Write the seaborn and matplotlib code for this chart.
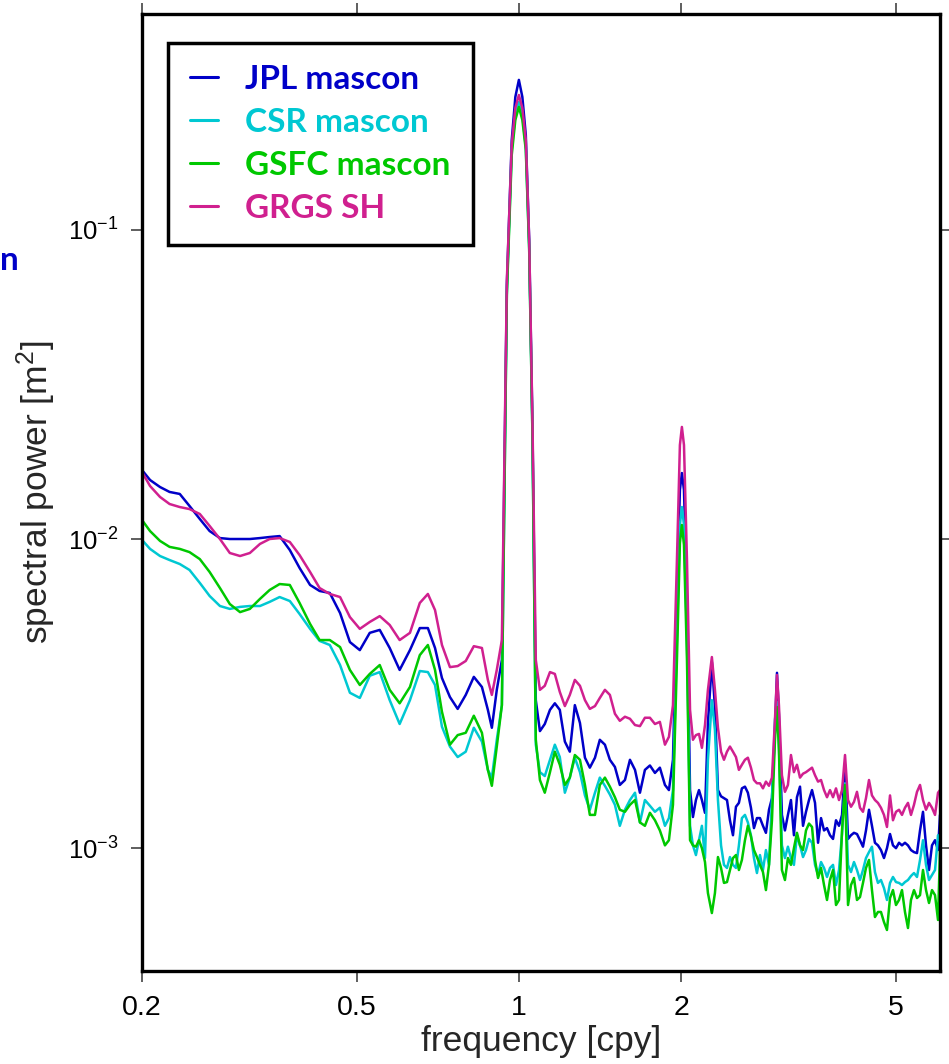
import matplotlib
matplotlib.use("Agg")
import matplotlib.pyplot as plt
import numpy as np
import pandas as pd
import seaborn as sns
from matplotlib.lines import Line2D
from matplotlib.ticker import FixedLocator, FixedFormatter, NullLocator

# ---------------- data ----------------
frequency = [
    0.200, 0.207, 0.216, 0.225, 0.235, 0.245, 0.256, 0.267, 0.279, 0.291,
    0.304, 0.317, 0.331, 0.345, 0.360, 0.376, 0.392, 0.410, 0.427, 0.446,
    0.466, 0.486, 0.507, 0.529, 0.552, 0.576, 0.601, 0.628, 0.655, 0.678,
    0.699, 0.720, 0.745, 0.770, 0.797, 0.825, 0.854, 0.876, 0.891, 0.910, 0.930,
    0.950, 0.970, 0.985, 1.000, 1.015, 1.030, 1.045, 1.060, 1.075,
    1.094, 1.117, 1.142, 1.166, 1.191, 1.217, 1.243, 1.270, 1.298, 1.326,
    1.354, 1.384, 1.413, 1.444, 1.475, 1.507, 1.539, 1.573, 1.607, 1.642,
    1.677, 1.713, 1.750, 1.788, 1.826, 1.866, 1.898, 1.931,
    1.964, 1.989, 2.006, 2.024, 2.050, 2.077,
    2.103, 2.130, 2.158, 2.185, 2.214, 2.242,
    2.280, 2.310, 2.340, 2.371, 2.401, 2.432, 2.463, 2.495, 2.527, 2.559, 2.592,
    2.626, 2.659, 2.694, 2.729, 2.764, 2.800, 2.836, 2.872, 2.910, 2.947, 2.985,
    3.011, 3.036,
    3.075, 3.115, 3.155, 3.196, 3.237, 3.279, 3.322, 3.365, 3.408, 3.452,
    3.497, 3.542, 3.588, 3.634, 3.681, 3.728, 3.776, 3.825, 3.874, 3.924,
    3.975, 4.026, 4.078, 4.130, 4.183, 4.237, 4.292, 4.347, 4.403, 4.460,
    4.517, 4.575, 4.634, 4.694, 4.755, 4.816, 4.879, 4.941, 5.005, 5.070,
    5.135, 5.201, 5.268, 5.336, 5.405, 5.475, 5.546, 5.617, 5.690, 5.763,
    5.837, 5.913, 5.989, 6.040,
]

jpl_mascon = [
    0.01672, 0.01552, 0.01473, 0.01420, 0.01399, 0.01279, 0.01161, 0.01061, 0.01007, 0.01000,
    0.01000, 0.01000, 0.01007, 0.01015, 0.01022, 0.00921, 0.00806, 0.00710, 0.00679, 0.00669,
    0.00576, 0.00464, 0.00437, 0.00497, 0.00508, 0.00444, 0.00377, 0.00437, 0.00515, 0.00515,
    0.00444, 0.00355, 0.00308, 0.00282, 0.00313, 0.00358, 0.00332, 0.00280, 0.00245, 0.00325, 0.00406,
    0.0664, 0.1956, 0.2694, 0.306, 0.2694, 0.2030, 0.0928, 0.02254, 0.00301,
    0.00239, 0.00252, 0.00280, 0.00294, 0.00280, 0.00221, 0.00205, 0.00290, 0.00254, 0.00196,
    0.00182, 0.00196, 0.00224, 0.00216, 0.00193, 0.00183, 0.00160, 0.00166, 0.00193, 0.00179,
    0.00151, 0.00179, 0.00185, 0.00175, 0.00182, 0.00160, 0.00154, 0.00193,
    0.00635, 0.01441, 0.01635, 0.01441, 0.00635, 0.00154,
    0.00126, 0.00143, 0.00154, 0.00143, 0.00130, 0.00254,
    0.00400, 0.00286, 0.00154, 0.00147, 0.00145, 0.00143, 0.00123, 0.00110, 0.00136, 0.00140, 0.00156,
    0.00158, 0.00151, 0.00135, 0.00116, 0.00125, 0.00125, 0.00118, 0.00112, 0.00133, 0.00145, 0.00241,
    0.00369, 0.00270,
    0.00128, 0.00114, 0.00128, 0.00143, 0.00110, 0.00146, 0.00158, 0.00118, 0.00131, 0.00143,
    0.00154, 0.00140, 0.00104, 0.00125, 0.00114, 0.00116, 0.00110, 0.00107, 0.00123, 0.00118,
    0.00128, 0.00186, 0.00107, 0.00110, 0.00112, 0.00111, 0.00106, 0.00101, 0.00114, 0.00133,
    0.00118, 0.00104, 0.00102, 0.000985, 0.000928, 0.000999, 0.00111, 0.00102, 0.000999, 0.00104,
    0.00102, 0.00104, 0.00102, 0.000985, 0.000970, 0.000963, 0.00114, 0.00131, 0.00102, 0.000849,
    0.00102, 0.00106, 0.000985, 0.00128,
]

csr_mascon = [
    0.00993, 0.00929, 0.00881, 0.00855, 0.00830, 0.00794, 0.00721, 0.00654, 0.00607, 0.00594,
    0.00603, 0.00607, 0.00607, 0.00626, 0.00649, 0.00630, 0.00572, 0.00512, 0.00468, 0.00454,
    0.00391, 0.00318, 0.00306, 0.00361, 0.00371, 0.00301, 0.00252, 0.00301, 0.00374, 0.00371,
    0.00337, 0.00247, 0.00213, 0.00197, 0.00205, 0.00245, 0.00221, 0.00179, 0.00169, 0.00224, 0.00290,
    0.0639, 0.1815, 0.2355, 0.2595, 0.2355, 0.1857, 0.0874, 0.02124, 0.00216,
    0.00176, 0.00171, 0.00193, 0.00216, 0.00197, 0.00151, 0.00169, 0.00196, 0.00176, 0.00148,
    0.00133, 0.00151, 0.00169, 0.00159, 0.00149, 0.00138, 0.00118, 0.00133, 0.00143, 0.00151,
    0.00121, 0.00143, 0.00137, 0.00131, 0.00135, 0.00118, 0.00125, 0.00154,
    0.00471, 0.01110, 0.01269, 0.01110, 0.00471, 0.00118,
    0.00102, 0.000949, 0.00106, 0.00118, 0.000928, 0.00193,
    0.00301, 0.00241, 0.00143, 0.00102, 0.000882, 0.000862, 0.000935, 0.000882, 0.000862, 0.00102, 0.00125,
    0.00128, 0.00121, 0.00110, 0.000928, 0.000830, 0.000949, 0.000849, 0.000985, 0.000882, 0.00143, 0.00260,
    0.00297, 0.00216,
    0.00102, 0.000928, 0.00101, 0.000928, 0.000882, 0.00110, 0.00102, 0.000935, 0.000985, 0.00107,
    0.00104, 0.000882, 0.000818, 0.000901, 0.000862, 0.000806, 0.000862, 0.000882, 0.000759, 0.000849,
    0.00111, 0.00162, 0.000882, 0.000836, 0.000901, 0.000849, 0.000788, 0.000849, 0.000928, 0.000970,
    0.00101, 0.000836, 0.000771, 0.000788, 0.000742, 0.000679, 0.000771, 0.000806, 0.000776, 0.000771,
    0.000759, 0.000776, 0.000788, 0.000812, 0.000830, 0.000806, 0.000915, 0.00106, 0.000882, 0.000788,
    0.000818, 0.000849, 0.00110, 0.00106,
]

gsfc_mascon = [
    0.01152, 0.01061, 0.00986, 0.00943, 0.00929, 0.00907, 0.00861, 0.00782, 0.00694, 0.00616,
    0.00580, 0.00594, 0.00640, 0.00684, 0.00715, 0.00710, 0.00621, 0.00531, 0.00471, 0.00471,
    0.00447, 0.00377, 0.00337, 0.00366, 0.00391, 0.00325, 0.00294, 0.00332, 0.00421, 0.00454,
    0.00377, 0.00276, 0.00216, 0.00232, 0.00236, 0.00268, 0.00236, 0.00179, 0.00159, 0.00213, 0.00290,
    0.0616, 0.1749, 0.2270, 0.2500, 0.2270, 0.1815, 0.0862, 0.02091, 0.00224,
    0.00166, 0.00151, 0.00176, 0.00205, 0.00186, 0.00160, 0.00169, 0.00200, 0.00193, 0.00160,
    0.00128, 0.00128, 0.00160, 0.00169, 0.00158, 0.00146, 0.00133, 0.00131, 0.00138, 0.00143,
    0.00121, 0.00118, 0.00130, 0.00123, 0.00114, 0.00102, 0.00106, 0.00138,
    0.00406, 0.00971, 0.01110, 0.00957, 0.00406, 0.00106,
    0.00102, 0.00101, 0.00106, 0.000999, 0.000901, 0.000715,
    0.000616, 0.000715, 0.000935, 0.000862, 0.000771, 0.000776, 0.000849, 0.000928, 0.000949, 0.000849, 0.000915,
    0.00106, 0.00118, 0.00109, 0.000985, 0.000935, 0.000882, 0.000836, 0.000731, 0.000882, 0.00123, 0.00224,
    0.00286, 0.00208,
    0.000849, 0.000788, 0.000928, 0.000882, 0.000999, 0.00112, 0.00102, 0.000985, 0.00114, 0.00120,
    0.00117, 0.000915, 0.000800, 0.000862, 0.000759, 0.000679, 0.000788, 0.000849, 0.000654, 0.000679,
    0.00114, 0.00160, 0.000654, 0.000759, 0.000800, 0.000679, 0.000694, 0.000771, 0.000862, 0.000915,
    0.000731, 0.000598, 0.000621, 0.000621, 0.000576, 0.000543, 0.000689, 0.000731, 0.000654, 0.000679,
    0.000731, 0.000621, 0.000551, 0.000679, 0.000731, 0.000689, 0.000704, 0.000849, 0.000731, 0.000664,
    0.000731, 0.000704, 0.000585, 0.000985,
]

grgs_sh = [
    0.01647, 0.01484, 0.01368, 0.01298, 0.01269, 0.01250, 0.01205, 0.01102, 0.01000, 0.00901,
    0.00881, 0.00901, 0.00964, 0.01000, 0.01007, 0.00978, 0.00887, 0.00782, 0.00694, 0.00664,
    0.00649, 0.00559, 0.00512, 0.00539, 0.00563, 0.00527, 0.00471, 0.00497, 0.00621, 0.00664,
    0.00589, 0.00454, 0.00385, 0.00388, 0.00403, 0.00450, 0.00444, 0.00350, 0.00313, 0.00377, 0.00471,
    0.0689, 0.1884, 0.2482, 0.2734, 0.2482, 0.1956, 0.0928, 0.02339, 0.00406,
    0.00325, 0.00335, 0.00371, 0.00366, 0.00320, 0.00288, 0.00313, 0.00350, 0.00335, 0.00301,
    0.00282, 0.00288, 0.00306, 0.00325, 0.00313, 0.00272, 0.00258, 0.00266, 0.00262, 0.00250,
    0.00248, 0.00264, 0.00264, 0.00252, 0.00256, 0.00216, 0.00229, 0.00290,
    0.00855, 0.02014, 0.02305, 0.02014, 0.00855, 0.00280,
    0.00224, 0.00232, 0.00234, 0.00211, 0.00250, 0.00325,
    0.00415, 0.00325, 0.00245, 0.00205, 0.00193, 0.00205, 0.00213, 0.00205, 0.00197, 0.00179, 0.00186,
    0.00193, 0.00196, 0.00182, 0.00166, 0.00162, 0.00162, 0.00156, 0.00164, 0.00159, 0.00169, 0.00260,
    0.00363, 0.00290,
    0.00172, 0.00152, 0.00160, 0.00200, 0.00176, 0.00186, 0.00169, 0.00174, 0.00176, 0.00179,
    0.00182, 0.00172, 0.00164, 0.00166, 0.00154, 0.00146, 0.00154, 0.00146, 0.00156, 0.00143,
    0.00154, 0.00200, 0.00143, 0.00136, 0.00141, 0.00152, 0.00135, 0.00131, 0.00145, 0.00166,
    0.00148, 0.00143, 0.00140, 0.00135, 0.00128, 0.00117, 0.00148, 0.00123, 0.00131, 0.00133,
    0.00128, 0.00135, 0.00140, 0.00128, 0.00138, 0.00152, 0.00160, 0.00143, 0.00133, 0.00140,
    0.00135, 0.00128, 0.00151, 0.00154,
]

series_names = ["JPL mascon", "CSR mascon", "GSFC mascon", "GRGS SH"]
series_colors = ["#0000C8", "#00C8D2", "#00C800", "#D0208F"]

x_ticks = [0.2, 0.5, 1, 2, 5]
x_tick_labels = ["0.2", "0.5", "1", "2", "5"]
y_ticks = [1e-3, 1e-2, 1e-1]
y_tick_labels = [r"$10^{-3}$", r"$10^{-2}$", r"$10^{-1}$"]

x_label = "frequency [cpy]"
y_label = r"spectral power [m$^2$]"

# ---------------- build long table ----------------
all_series = [jpl_mascon, csr_mascon, gsfc_mascon, grgs_sh]
for name, vals in zip(series_names, all_series):
    if len(vals) != len(frequency):
        raise ValueError(f"{name}: {len(vals)} values vs {len(frequency)} frequencies")

df = pd.concat(
    [pd.DataFrame({"frequency": frequency, "power": vals, "product": name})
     for name, vals in zip(series_names, all_series)],
    ignore_index=True,
)

# ---------------- style ----------------
sns.set_style("ticks")
plt.rcParams["font.family"] = ["Liberation Sans", "DejaVu Sans"]
plt.rcParams["mathtext.fontset"] = "custom"
plt.rcParams["mathtext.rm"] = "Liberation Sans"
plt.rcParams["mathtext.it"] = "Liberation Sans:italic"
plt.rcParams["mathtext.bf"] = "Liberation Sans:bold"

W, H = 949, 1064
fig = plt.figure(figsize=(W / 100, H / 100), dpi=100)
ax = fig.add_axes([142 / W, 1 - 971 / H, 798 / W, 957 / H])

palette = dict(zip(series_names, series_colors))
sns.lineplot(data=df, x="frequency", y="power", hue="product",
             hue_order=series_names, palette=palette, estimator=None,
             sort=False, linewidth=1.8, legend=False, ax=ax)

ax.set_xscale("log")
ax.set_yscale("log")
ax.set_xlim(0.2, 6.04)
ax.set_ylim(4.0e-4, 0.5)

ax.xaxis.set_major_locator(FixedLocator(x_ticks))
ax.xaxis.set_major_formatter(FixedFormatter(x_tick_labels))
ax.xaxis.set_minor_locator(NullLocator())
ax.yaxis.set_major_locator(FixedLocator(y_ticks))
ax.yaxis.set_major_formatter(FixedFormatter(y_tick_labels))
ax.yaxis.set_minor_locator(NullLocator())

ax.tick_params(axis="both", which="major", direction="out", length=8, width=1.1,
               color="#333333", top=True, right=True, labeltop=False,
               labelright=False, pad=9, labelcolor="black")
ax.tick_params(axis="x", labelsize=20.5)
ax.tick_params(axis="y", labelsize=18.5)

for sp in ax.spines.values():
    sp.set_linewidth(2.4)
    sp.set_color("black")

ax.set_xlabel(x_label, fontsize=25.5)
ax.set_ylabel(y_label, fontsize=25.5)
ax.xaxis.set_label_coords(0.5, (971 - 1025) / 957)
ax.xaxis.label.set_va("top")
ax.yaxis.set_label_coords((58 - 142) / 798, 0.5)

fs = 24
handles = [Line2D([], [], color=c, lw=2.2) for c in series_colors]
leg = ax.legend(handles, series_names, loc="upper left",
                bbox_to_anchor=((168 - 142) / 798, (971 - 43) / 957),
                bbox_transform=ax.transAxes, borderaxespad=0,
                prop={"family": ["Lato", "DejaVu Sans"], "weight": "bold", "size": fs},
                frameon=True, fancybox=False, framealpha=1, edgecolor="black",
                handlelength=0.84, handletextpad=0.82, borderpad=0.66,
                labelspacing=0.42)
leg.get_frame().set_linewidth(2.5)
for t, c in zip(leg.get_texts(), series_colors):
    t.set_color(c)

# slide fragment at the left edge
fig.text(0.5 / W, 1 - 260 / H, "n", color="#0000C8", fontsize=24,
         fontweight="bold", family=["Lato", "DejaVu Sans"], ha="left", va="center")

fig.savefig("out.png", dpi=100)
